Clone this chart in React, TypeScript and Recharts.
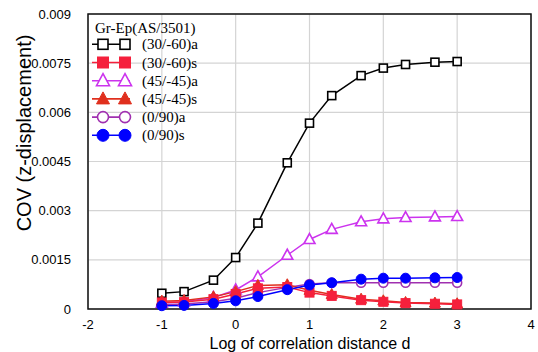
import React from "react";
import {
  LineChart,
  Line,
  XAxis,
  YAxis,
  CartesianGrid,
  ReferenceArea,
} from "recharts";

// log10 of correlation distance
const logD = [-1, -0.699, -0.301, 0, 0.301, 0.699, 1, 1.301, 1.699, 2, 2.301, 2.699, 3];

const cov3060a = [0.00048, 0.00053, 0.00088, 0.00157, 0.00262, 0.00446, 0.00567, 0.00651, 0.00712, 0.00735, 0.00746, 0.00753, 0.00755];
const cov3060s = [0.0002, 0.00021, 0.0003, 0.00046, 0.00063, 0.00067, 0.0005, 0.0004, 0.00027, 0.00022, 0.00018, 0.00016, 0.00014];
const cov4545a = [0.00018, 0.00022, 0.00035, 0.00058, 0.00098, 0.00164, 0.00212, 0.00243, 0.00266, 0.00275, 0.00279, 0.00281, 0.00282];
const cov4545s = [0.00024, 0.00026, 0.00037, 0.00053, 0.00072, 0.00074, 0.00057, 0.00044, 0.0003, 0.00025, 0.0002, 0.00018, 0.00016];
const cov090a = [0.00013, 0.00015, 0.00022, 0.00033, 0.0005, 0.00066, 0.00076, 0.0008, 0.0008, 0.0008, 0.0008, 0.0008, 0.0008];
const cov090s = [0.0001, 0.00011, 0.00017, 0.00025, 0.00038, 0.00059, 0.00073, 0.0008, 0.00091, 0.00094, 0.00094, 0.00095, 0.00096];

const xTicks = [-2, -1, 0, 1, 2, 3, 4];
const yTicks = [0, 0.0015, 0.003, 0.0045, 0.006, 0.0075, 0.009];
const yTickLabels = ["0", "0.0015", "0.003", "0.0045", "0.006", "0.0075", "0.009"];

const legendTitle = "Gr-Ep(AS/3501)";

type Shape = "square" | "triangle" | "circle";

interface SeriesDef {
  key: string;
  name: string;
  color: string;
  shape: Shape;
  filled: boolean;
  size: number;
  values: number[];
}

// legend order
const series: SeriesDef[] = [
  { key: "a3060", name: "(30/-60)a", color: "#000000", shape: "square", filled: false, size: 8, values: cov3060a },
  { key: "s3060", name: "(30/-60)s", color: "#f5203c", shape: "square", filled: true, size: 9, values: cov3060s },
  { key: "a4545", name: "(45/-45)a", color: "#cc33ee", shape: "triangle", filled: false, size: 10, values: cov4545a },
  { key: "s4545", name: "(45/-45)s", color: "#e0301e", shape: "triangle", filled: true, size: 10, values: cov4545s },
  { key: "a090", name: "(0/90)a", color: "#a030b0", shape: "circle", filled: false, size: 9, values: cov090a },
  { key: "s090", name: "(0/90)s", color: "#0000ff", shape: "circle", filled: true, size: 10, values: cov090s },
];

// draw order (blue on top)
const drawOrder = ["a3060", "a4545", "a090", "s4545", "s3060", "s090"];

const rows = logD.map((x, i) => {
  const r: Record<string, number> = { x };
  series.forEach((s) => (r[s.key] = s.values[i]));
  return r;
});

function Marker({ cx, cy, s }: { cx: number; cy: number; s: SeriesDef }) {
  const h = s.size / 2;
  const fill = s.filled ? s.color : "#fff";
  const sw = s.filled ? 1 : 1.6;
  if (s.shape === "square")
    return <rect x={cx - h} y={cy - h} width={s.size} height={s.size} fill={fill} stroke={s.color} strokeWidth={sw} />;
  if (s.shape === "triangle")
    return (
      <polygon
        points={`${cx},${cy - h - 1} ${cx + h + 0.5},${cy + h - 1} ${cx - h - 0.5},${cy + h - 1}`}
        fill={fill}
        stroke={s.color}
        strokeWidth={sw}
        strokeLinejoin="miter"
      />
    );
  return <circle cx={cx} cy={cy} r={h} fill={fill} stroke={s.color} strokeWidth={sw} />;
}

function LegendBox() {
  const top = 44.3;
  const step = 18.2;
  return (
    <svg width={538} height={352} style={{ position: "absolute", left: 0, top: 0, pointerEvents: "none" }}>
      <text x={95} y={33} fontFamily="'Liberation Serif', 'Times New Roman', serif" fontSize={15} fill="#000">
        {legendTitle}
      </text>
      {series.map((s, i) => {
        const cy = top + i * step;
        const big = { ...s, size: s.size + 2 };
        return (
          <g key={s.key}>
            <line x1={92} x2={130} y1={cy} y2={cy} stroke={s.color} strokeWidth={1.6} />
            <Marker cx={103} cy={cy} s={big} />
            <Marker cx={125} cy={cy} s={big} />
            <text x={142} y={cy + 5} fontFamily="'Liberation Serif', 'Times New Roman', serif" fontSize={15} fill="#000">
              {s.name}
            </text>
          </g>
        );
      })}
    </svg>
  );
}

const tickStyle = { fontSize: 13, fill: "#000", fontFamily: "'Liberation Sans', Arial, sans-serif" };

export default function App() {
  return (
    <div style={{ position: "fixed", left: 0, top: 0, width: 538, height: 352, background: "#fff" }}>
      <LineChart width={538} height={352} data={rows} margin={{ top: 14, right: 7, left: 0, bottom: 0 }}>
        <CartesianGrid stroke="#d4d4d4" strokeWidth={1.2} />
        <XAxis
          type="number"
          dataKey="x"
          domain={[-2, 4]}
          ticks={xTicks}
          height={43}
          tickSize={0}
          tickMargin={11}
          tickLine={false}
          axisLine={false}
          tick={tickStyle}
          label={{
            content: () => (
              <text x={310} y={349} textAnchor="middle" fontSize={16} fill="#000" fontFamily="'Liberation Sans', Arial, sans-serif">
                Log of correlation distance d
              </text>
            ),
          }}
        />
        <YAxis
          type="number"
          domain={[0, 0.009]}
          ticks={yTicks}
          width={88}
          tickSize={0}
          tickMargin={17}
          tickLine={false}
          axisLine={false}
          tick={tickStyle}
          tickFormatter={(v: number) => yTickLabels[yTicks.indexOf(v)] ?? String(v)}
          label={{
            content: () => (
              <text x={31} y={133} transform="rotate(-90 31 133)" textAnchor="middle" fontSize={20} fill="#000" fontFamily="'Liberation Sans', Arial, sans-serif">
                COV (z-displacement)
              </text>
            ),
          }}
        />
        <ReferenceArea x1={-2} x2={4} y1={0} y2={0.009} fill="none" stroke="#111" strokeWidth={1.5} />
        {drawOrder.map((k) => {
          const s = series.find((d) => d.key === k)!;
          return (
            <Line
              key={s.key}
              type="linear"
              dataKey={s.key}
              name={s.name}
              stroke={s.color}
              strokeWidth={1.5}
              isAnimationActive={false}
              dot={(p: any) => <Marker key={`${s.key}-${p.index}`} cx={p.cx} cy={p.cy} s={s} />}
              activeDot={false}
            />
          );
        })}
      </LineChart>
      <LegendBox />
    </div>
  );
}
